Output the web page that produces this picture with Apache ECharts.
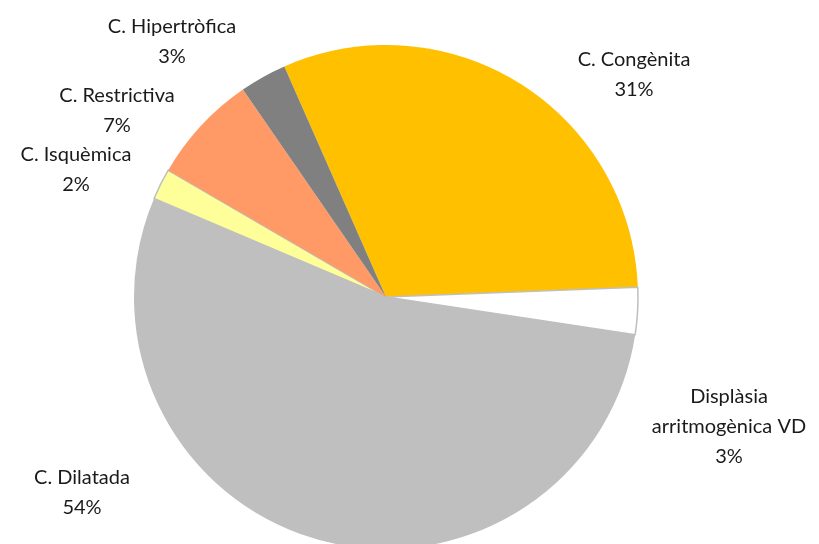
<!DOCTYPE html>
<html>
<head>
<meta charset="utf-8">
<script src="https://cdn.jsdelivr.net/npm/echarts@6/dist/echarts.min.js"></script>
<style>
  html, body { margin: 0; padding: 0; background: #fff; }
  #chart { width: 819px; height: 544px; }
</style>
</head>
<body>
<div id="chart"></div>
<script>
// Cardiopathy categories and their share (%), clockwise from the top
const categories = [
  'C. Congènita',
  'Displàsia\narritmogènica VD',
  'C. Dilatada',
  'C. Isquèmica',
  'C. Restrictiva',
  'C. Hipertròfica'
];
const shares = [31, 3, 54, 2, 7, 3];
const colors = ['#FFC000', '#FFFFFF', '#BFBFBF', '#FFFF99', '#FF9966', '#808080'];

// Where each label block sits (center x, top y)
const labelSpots = [
  [634, 45],
  [729, 382],
  [82, 463],
  [76, 140],
  [117, 81],
  [172, 12]
];

const chart = echarts.init(document.getElementById('chart'), null, { renderer: 'canvas' });

chart.setOption({
  animation: false,
  backgroundColor: '#ffffff',
  series: [{
    type: 'pie',
    center: [386, 297],
    radius: 252,
    startAngle: 113.8,
    clockwise: true,
    percentPrecision: 0,
    avoidLabelOverlap: false,
    data: categories.map((name, i) => ({
      name,
      value: shares[i],
      itemStyle: {
        color: colors[i],
        borderColor: (i === 1 || i === 3) ? '#BFBFBF' : colors[i],
        borderWidth: (i === 1 || i === 3) ? 1.5 : 0
      }
    })),
    label: {
      show: true,
      position: 'outside',
      formatter: '{b}\n{d}%',
      fontFamily: 'Lato',
      fontSize: 20,
      lineHeight: 30,
      color: '#1a1a1a',
      align: 'center'
    },
    labelLine: { show: false },
    labelLayout: function (params) {
      const spot = labelSpots[params.dataIndex];
      return {
        x: spot[0],
        y: spot[1],
        align: 'center',
        verticalAlign: 'top'
      };
    },
    emphasis: { disabled: true }
  }]
});
</script>
</body>
</html>
